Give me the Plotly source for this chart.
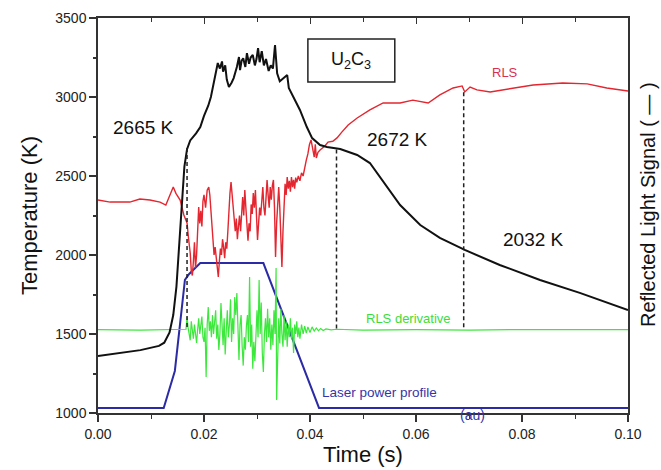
import plotly.graph_objects as go

# ---- Temperature (black) ----
temp_t = [0, 0.004, 0.008, 0.0115, 0.0125, 0.0135, 0.0142, 0.0148, 0.0153, 0.0158, 0.0163, 0.0168,
          0.0174, 0.0185, 0.0193, 0.0200, 0.0208, 0.0213, 0.0220, 0.0226, 0.0230, 0.0234, 0.0236,
          0.0240, 0.0243, 0.0247, 0.0252, 0.0256, 0.0262, 0.0266, 0.0268, 0.0271, 0.0274, 0.0278, 0.0281,
          0.0285, 0.0288, 0.0292, 0.0296, 0.0299, 0.0302, 0.0305, 0.0309, 0.0313, 0.0317, 0.0322, 0.0326,
          0.0330, 0.0334, 0.0338, 0.0343, 0.0350, 0.0357, 0.0360, 0.0368, 0.0381, 0.0394, 0.0404, 0.0419,
          0.0432, 0.0457, 0.0489, 0.0513, 0.0532, 0.0570, 0.0608, 0.0645, 0.0692, 0.0758, 0.0834, 0.0909,
          0.1000]
temp_K = [1361, 1378, 1398, 1425, 1445, 1510, 1620, 1800, 2050, 2350, 2560, 2670,
          2725, 2770, 2810, 2880, 2945, 3000, 3127, 3215, 3180, 3225, 3160,
          3200, 3110, 3063, 3090, 3120, 3190, 3253, 3170, 3230, 3245, 3190, 3278,
          3210, 3250, 3266, 3200, 3240, 3310, 3220, 3290, 3200, 3240, 3165, 3200,
          3180, 3329, 3150, 3100, 3120, 3139, 3057, 3000, 2918, 2810, 2740, 2696,
          2684, 2671, 2633, 2582, 2494, 2316, 2190, 2108, 2032, 1937, 1842, 1760,
          1652]

# ---- Reflected light signal (red) ----
rls_t = [0, 0.0023, 0.006, 0.0079, 0.0098, 0.0117, 0.0128, 0.0136, 0.0142, 0.0147, 0.0155, 0.0162,
         0.0168, 0.0171, 0.0174, 0.0176, 0.0178, 0.0180, 0.0182, 0.0184, 0.0186, 0.0188, 0.0190,
         0.0192, 0.0194, 0.0196, 0.0198, 0.0200, 0.0203, 0.0206, 0.0209, 0.0211, 0.0213, 0.0215,
         0.0217, 0.0219, 0.0221, 0.0223, 0.0225, 0.0227, 0.0229, 0.0231, 0.0233, 0.0235, 0.0237,
         0.0239, 0.0241, 0.0243, 0.0245, 0.0247, 0.0249, 0.0251, 0.0253, 0.0255, 0.0257, 0.0259,
         0.0261, 0.0263, 0.0265, 0.0267, 0.0269, 0.0271, 0.0273, 0.0275, 0.0277, 0.0279, 0.0281,
         0.0283, 0.0285, 0.0287, 0.0289, 0.0291, 0.0293, 0.0295, 0.0297, 0.0299, 0.0301, 0.0303,
         0.0305, 0.0307, 0.0309, 0.0311, 0.0313, 0.0315, 0.0317, 0.0319, 0.0321, 0.0323, 0.0325,
         0.0327, 0.0329, 0.0331, 0.0333, 0.0335, 0.0337, 0.0339, 0.0341, 0.0343, 0.0345, 0.0347,
         0.0349, 0.0351, 0.0353, 0.0355, 0.0357, 0.0359, 0.0361, 0.0363, 0.0365, 0.0367, 0.0369,
         0.0371, 0.0373, 0.0375, 0.0378, 0.0381, 0.0384, 0.0387, 0.0390, 0.0393, 0.0396, 0.0399,
         0.0402, 0.0405, 0.0408, 0.0410, 0.0412, 0.0415, 0.0419, 0.0428, 0.0434, 0.0443, 0.0451,
         0.0460, 0.0472, 0.0489, 0.0513, 0.0538, 0.0570, 0.0594, 0.0623, 0.0645, 0.0670, 0.0687,
         0.0692, 0.0702, 0.0715, 0.0740, 0.0772, 0.0821, 0.0877, 0.0923, 0.0960, 0.1000]
rls_K = [2348, 2335, 2335, 2354, 2348, 2335, 2316, 2380, 2430, 2390, 2348, 2253,
         2203, 2100, 2013, 1900, 1870, 1960, 2080, 1920, 2000, 2150, 2304,
         2200, 2280, 2180, 2340, 2380, 2300, 2410, 2430, 2380, 2280, 2203,
         2100, 2000, 2050, 1968, 1900, 1861, 1960, 2040, 2000, 2100, 2050,
         1980, 2080, 2040, 2150, 2300, 2392, 2462, 2380, 2280, 2203, 2150,
         2230, 2100, 2180, 2250, 2150, 2300, 2367, 2250, 2411, 2300, 2200,
         2090, 2200, 2150, 2320, 2260, 2392, 2300, 2411, 2250, 2095, 2200,
         2300, 2250, 2380, 2430, 2300, 2250, 2360, 2475, 2380, 2300, 2430,
         2350, 2440, 2475, 2300, 1987, 2200, 2360, 2430, 2300, 2100, 1924,
         2150, 2300, 2450, 2380, 2494, 2420, 2470, 2400, 2494, 2430, 2475,
         2420, 2490, 2460, 2500, 2470, 2520, 2500, 2557, 2600, 2640, 2700,
         2728, 2680, 2620, 2700, 2614, 2650, 2665, 2690, 2715, 2720, 2741,
         2778, 2823, 2867, 2918, 2962, 2962, 2980, 2962, 3013, 3057, 3070,
         3032, 3063, 3045, 3032, 3051, 3076, 3089, 3083, 3057, 3038]

# ---- RLS derivative (green) ----
der_t = [0, 0.008, 0.0166, 0.0168, 0.0170, 0.0172, 0.0174, 0.0176, 0.0178, 0.0180, 0.0182, 0.0184,
         0.0186, 0.0188, 0.0190, 0.0192, 0.0194, 0.0196, 0.0198, 0.0200, 0.0202, 0.0204, 0.0206,
         0.0208, 0.0210, 0.0212, 0.0214, 0.0216, 0.0218, 0.0220, 0.0222, 0.0224, 0.0226, 0.0228,
         0.0230, 0.0232, 0.0234, 0.0236, 0.0238, 0.0240, 0.0242, 0.0244, 0.0246, 0.0248, 0.0250,
         0.0252, 0.0254, 0.0256, 0.0258, 0.0260, 0.0262, 0.0264, 0.0266, 0.0268, 0.0270, 0.0272,
         0.0274, 0.0276, 0.0278, 0.0280, 0.0282, 0.0284, 0.0286, 0.0288, 0.0290, 0.0292, 0.0294,
         0.0296, 0.0298, 0.0300, 0.0302, 0.0304, 0.0306, 0.0308, 0.0310, 0.0312, 0.0314, 0.0316,
         0.0318, 0.0320, 0.0322, 0.0324, 0.0326, 0.0328, 0.0330, 0.0332, 0.0334, 0.0336, 0.0337,
         0.0339, 0.0341, 0.0343, 0.0345, 0.0347, 0.0349, 0.0351, 0.0353, 0.0355, 0.0357, 0.0359,
         0.0361, 0.0363, 0.0365, 0.0367, 0.0369, 0.0371, 0.0373, 0.0375, 0.0377, 0.0379, 0.0381,
         0.0384, 0.0387, 0.0390, 0.0393, 0.0396, 0.0400, 0.0404, 0.0408, 0.0412, 0.0416, 0.0420,
         0.0425, 0.0430, 0.0440, 0.0450, 0.0500, 0.0600, 0.0700, 0.0800, 0.0900, 0.1000]
der_K = [1528, 1525, 1530, 1608, 1540, 1480, 1460, 1580, 1520, 1470, 1560, 1500,
         1443, 1530, 1600, 1500, 1560, 1610, 1480, 1450, 1540, 1228, 1560,
         1671, 1520, 1580, 1480, 1620, 1500, 1580, 1650, 1470, 1560, 1399,
         1500, 1696, 1540, 1430, 1600, 1370, 1520, 1650, 1480, 1560, 1720,
         1450, 1600, 1500, 1734, 1620, 1760, 1450, 1335, 1560, 1620, 1420,
         1300, 1480, 1400, 1550, 1620, 1450, 1861, 1420, 1560, 1280, 1450,
         1330, 1560, 1650, 1480, 1842, 1500, 1700, 1380, 1260, 1500, 1600,
         1450, 1660, 1480, 1600, 1400, 1560, 1430, 1650, 1500, 1918, 1082,
         1480, 1600, 1440, 1660, 1500, 1420, 1620, 1460, 1580, 1420, 1560,
         1480, 1600, 1470, 1540, 1380, 1560, 1500, 1580, 1480, 1540, 1470,
         1560, 1500, 1550, 1505, 1545, 1510, 1545, 1518, 1538, 1520, 1535,
         1522, 1532, 1526, 1530, 1525, 1528, 1525, 1528, 1526, 1528]

# ---- Laser power profile (blue) ----
laser_t = [0, 0.0124, 0.0145, 0.0164, 0.0172, 0.0193, 0.0312, 0.0417, 0.1000]
laser_K = [1032, 1032, 1266, 1842, 1880, 1949, 1949, 1032, 1032]

# ---- Dashed markers ----
mark_t = [0.0168, 0.0450, 0.0690]
mark_top = [2677, 2668, 3030]
mark_bottom = [1528, 1528, 1528]

x_ticks = [0.00, 0.02, 0.04, 0.06, 0.08, 0.10]
x_ticklabels = ["0.00", "0.02", "0.04", "0.06", "0.08", "0.10"]
y_ticks = [1000, 1500, 2000, 2500, 3000, 3500]

fig = go.Figure()

fig.add_trace(go.Scatter(x=laser_t, y=laser_K, mode="lines",
                         line=dict(color="#2b2ba6", width=2), hoverinfo="skip"))
fig.add_trace(go.Scatter(x=der_t, y=der_K, mode="lines",
                         line=dict(color="#3be83b", width=1.2), hoverinfo="skip"))
fig.add_trace(go.Scatter(x=rls_t, y=rls_K, mode="lines",
                         line=dict(color="#e3262f", width=1.4), hoverinfo="skip"))
fig.add_trace(go.Scatter(x=temp_t, y=temp_K, mode="lines",
                         line=dict(color="#111111", width=2), hoverinfo="skip"))

for t, top, bot in zip(mark_t, mark_top, mark_bottom):
    fig.add_trace(go.Scatter(x=[t, t], y=[top, bot], mode="lines",
                             line=dict(color="#222222", width=1.5, dash="4px,3px"),
                             hoverinfo="skip"))

# invisible trace to activate the top axis
fig.add_trace(go.Scatter(x=[0, 0.1], y=[1000, 1000], xaxis="x2", mode="lines",
                         line=dict(width=0), hoverinfo="skip", showlegend=False))

font = "Liberation Sans, Arial, sans-serif"

fig.update_layout(
    width=661, height=470,
    margin=dict(l=98, r=33, t=18, b=57, autoexpand=False),
    paper_bgcolor="white", plot_bgcolor="white",
    showlegend=False,
    font=dict(family=font, color="#222222"),
    xaxis=dict(range=[0, 0.1], tickvals=x_ticks, ticktext=x_ticklabels, automargin=False,
               ticks="outside", ticklen=7, tickwidth=1.5, tickcolor="#333",
               minor=dict(dtick=0.01, ticks="outside", ticklen=4, tickcolor="#333", tickwidth=1.2),
               showline=True, linecolor="#333", linewidth=1.5, mirror=True,
               showgrid=False, zeroline=False,
               tickfont=dict(size=14, color="#222"),
               title=dict(text="Time (s)", font=dict(size=22, color="#111"), standoff=3)),
    xaxis2=dict(range=[0, 0.1], overlaying="x", side="top", dtick=0.02, tick0=0, automargin=False,
                ticks="inside", ticklen=6, tickwidth=1.2, tickcolor="#333",
                minor=dict(dtick=0.01, ticks="inside", ticklen=4, tickcolor="#333"),
                showticklabels=False, showgrid=False, zeroline=False, showline=False),
    yaxis=dict(range=[1000, 3500], tickvals=y_ticks, automargin=False,
               ticks="outside", ticklen=7, tickwidth=1.5, tickcolor="#333",
               minor=dict(dtick=250, ticks="outside", ticklen=3, tickcolor="#333"),
               showline=True, linecolor="#333", linewidth=1.5, mirror=True,
               showgrid=False, zeroline=False,
               tickfont=dict(size=14, color="#222"),
               title=dict(text="Temperature (K)", font=dict(size=22, color="#111"), standoff=12)),
)

ann = [
    dict(x=0.0085, y=2804, text="2665 K", font=dict(size=19, color="#111")),
    dict(x=0.0566, y=2728, text="2672 K", font=dict(size=19, color="#111")),
    dict(x=0.0821, y=2095, text="2032 K", font=dict(size=19, color="#111")),
    dict(x=0.0768, y=3158, text="RLS", font=dict(size=13, color="#d8304f")),
    dict(x=0.0585, y=1595, text="RLS derivative", font=dict(size=13, color="#3ddc3d")),
    dict(x=0.0532, y=1127, text="Laser power profile", font=dict(size=13.5, color="#3535a8")),
    dict(x=0.0477, y=3232, text="U<sub>2</sub>C<sub>3</sub>", font=dict(size=18, color="#111")),
]
for a in ann:
    fig.add_annotation(xref="x", yref="y", showarrow=False, xanchor="center", yanchor="middle",
                       font_family=font, **a)

# "(au)" sits on the bottom axis line
fig.add_annotation(xref="x", yref="paper", x=0.0706, y=0, yshift=-2, text="(au)",
                   showarrow=False, xanchor="center", yanchor="middle",
                   font=dict(family=font, size=14, color="#3535a8"))

fig.add_annotation(xref="paper", yref="paper", x=(648 - 98) / 530, y=(413 - 205) / 395,
                   textangle=-90, xanchor="center", yanchor="middle",
                   text="Reflected Light Signal ( \u2014 )", showarrow=False,
                   font=dict(family=font, size=20, color="#111"))

fig.add_shape(type="rect", xref="x", yref="y", x0=0.0396, x1=0.0560, y0=3095, y1=3367,
              line=dict(color="#222", width=1.5), fillcolor="rgba(0,0,0,0)")

fig.write_html("out.html", config={"displayModeBar": False},
               post_script="document.body.style.margin='0px';document.body.style.overflow='hidden';")
